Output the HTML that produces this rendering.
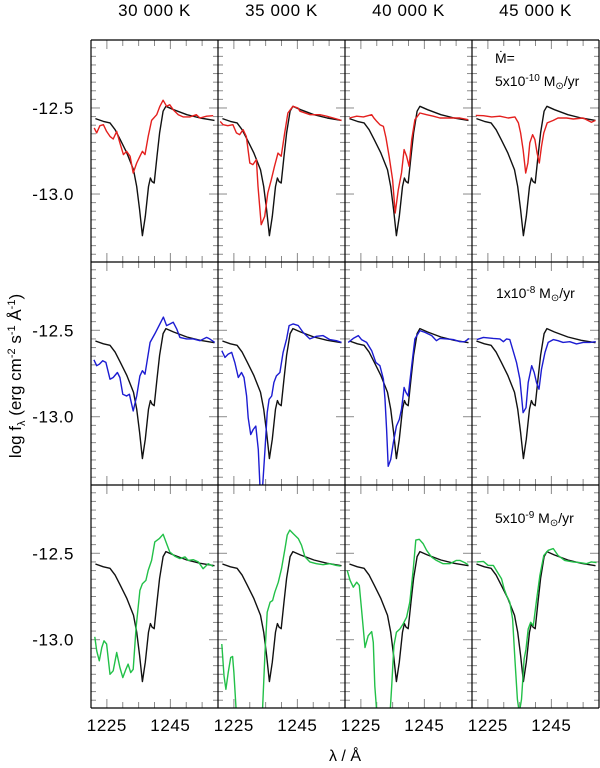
<!DOCTYPE html>
<html><head><meta charset="utf-8">
<style>
html,body{margin:0;padding:0;background:#fff;}
#wrap{position:relative;width:600px;height:768px;overflow:hidden;font-family:"Liberation Sans",sans-serif;}
svg text{font-family:"Liberation Sans",sans-serif;}
</style></head>
<body>
<div id="wrap">
<svg id="chart" width="600" height="768" viewBox="0 0 600 768"></svg>
</div>
<script>
// ---- data ----
const colTitles = ["30 000 K","35 000 K","40 000 K","45 000 K"];
const xTickLabels = [1225, 1245];
const yTickLabels = [-12.5, -13.0];
const rowColors = ["#e4201e","#1c1cd2","#22c048"];

const lamModel = [1221.4,1223.9,1226.0,1227.6,1229.2,1231.3,1233.4,1234.4,1235.3,1236.2,1237.1,1238.1,1238.7,1239.2,1239.9,1240.8,1241.6,1242.7,1243.6,1246.0,1250.2,1254.4,1258.9];
const valModel = [-12.562,-12.578,-12.587,-12.626,-12.684,-12.762,-12.859,-12.956,-13.091,-13.242,-13.130,-12.956,-12.907,-12.927,-12.936,-12.781,-12.645,-12.519,-12.490,-12.510,-12.539,-12.558,-12.572];

const lamR1C1 = [1221.0,1221.8,1222.8,1223.9,1224.9,1226.0,1227.0,1228.1,1229.1,1230.2,1231.2,1232.3,1233.3,1234.4,1235.4,1236.2,1237.0,1238.0,1239.1,1240.7,1241.7,1242.7,1243.8,1244.8,1245.9,1247.5,1249.0,1251.1,1253.2,1254.3,1256.4,1258.5];
const valR1C1 = [-12.616,-12.645,-12.603,-12.597,-12.636,-12.665,-12.680,-12.636,-12.703,-12.771,-12.752,-12.781,-12.878,-12.820,-12.781,-12.752,-12.771,-12.665,-12.572,-12.539,-12.490,-12.455,-12.490,-12.481,-12.510,-12.539,-12.552,-12.552,-12.539,-12.558,-12.548,-12.545];
const lamR1C2 = [1220.7,1221.6,1223.1,1224.7,1225.8,1226.8,1227.9,1228.9,1230.0,1231.0,1232.1,1232.6,1233.6,1234.7,1235.7,1236.8,1237.8,1238.9,1239.9,1241.0,1242.0,1243.6,1245.2,1245.8,1249.0,1252.1,1254.2,1256.3,1258.9];
const valR1C2 = [-12.578,-12.597,-12.603,-12.597,-12.645,-12.655,-12.626,-12.665,-12.820,-12.829,-12.800,-12.955,-13.178,-13.130,-12.994,-12.917,-12.839,-12.762,-12.781,-12.645,-12.529,-12.490,-12.500,-12.519,-12.539,-12.539,-12.548,-12.558,-12.572];
const lamR1C3 = [1221.4,1223.7,1225.8,1228.4,1229.1,1230.0,1231.0,1232.1,1232.9,1233.9,1235.0,1235.8,1236.8,1237.8,1238.6,1239.4,1240.2,1241.0,1242.0,1243.6,1245.7,1247.8,1249.9,1252.0,1254.1,1256.2,1258.8];
const valR1C3 = [-12.558,-12.548,-12.552,-12.539,-12.558,-12.578,-12.597,-12.607,-12.674,-12.781,-12.917,-13.110,-12.975,-12.878,-12.742,-12.781,-12.839,-12.684,-12.568,-12.529,-12.539,-12.548,-12.558,-12.558,-12.558,-12.558,-12.568];
const lamR1C4 = [1221.2,1223.6,1226.2,1228.8,1231.4,1233.5,1234.6,1235.3,1236.1,1236.9,1237.6,1238.2,1239.1,1239.8,1240.5,1241.2,1241.9,1242.6,1243.7,1245.6,1247.1,1249.8,1251.9,1255.0,1257.6,1258.9];
const valR1C4 = [-12.543,-12.545,-12.552,-12.548,-12.558,-12.552,-12.587,-12.645,-12.742,-12.878,-12.820,-12.703,-12.655,-12.684,-12.762,-12.820,-12.723,-12.645,-12.587,-12.572,-12.558,-12.558,-12.564,-12.558,-12.583,-12.572];

const lamR2C1 = [1220.9,1221.8,1222.6,1223.7,1224.7,1226.0,1227.0,1228.3,1229.1,1230.0,1231.2,1232.1,1233.3,1234.4,1235.4,1236.2,1237.0,1238.6,1240.1,1241.7,1242.8,1243.8,1244.9,1245.9,1247.0,1248.0,1250.1,1252.2,1254.3,1256.4,1257.4,1259.0];
const valR2C1 = [-12.671,-12.705,-12.696,-12.676,-12.686,-12.783,-12.773,-12.744,-12.773,-12.870,-12.880,-12.870,-12.967,-12.880,-12.764,-12.734,-12.754,-12.570,-12.521,-12.463,-12.424,-12.473,-12.463,-12.453,-12.492,-12.541,-12.550,-12.550,-12.560,-12.541,-12.550,-12.570];
const lamR2C2 = [1221.2,1222.2,1223.2,1224.3,1225.3,1226.4,1227.4,1228.2,1229.0,1229.5,1230.3,1231.1,1231.9,1232.7,1233.2,1234.0,1234.8,1235.5,1236.1,1236.9,1237.6,1238.4,1239.5,1240.5,1241.6,1242.4,1243.7,1245.3,1246.8,1248.9,1251.0,1253.1,1255.2,1257.3,1258.9];
const valR2C2 = [-12.618,-12.657,-12.638,-12.628,-12.686,-12.773,-12.744,-12.773,-12.880,-13.006,-13.103,-13.074,-13.054,-13.190,-13.393,-13.422,-13.190,-12.977,-12.899,-12.880,-12.802,-12.764,-12.744,-12.628,-12.550,-12.473,-12.463,-12.473,-12.512,-12.550,-12.535,-12.531,-12.554,-12.560,-12.570];
const lamR2C3 = [1221.0,1222.6,1224.2,1225.2,1226.8,1228.4,1229.7,1231.0,1232.1,1232.6,1233.1,1233.6,1234.4,1235.2,1236.2,1237.1,1237.8,1238.6,1239.2,1239.9,1241.0,1242.0,1243.6,1245.2,1247.3,1248.8,1249.9,1252.0,1254.1,1256.2,1257.7,1259.1];
const valR2C3 = [-12.570,-12.547,-12.531,-12.554,-12.570,-12.618,-12.686,-12.705,-12.783,-12.899,-13.074,-13.287,-13.248,-13.151,-13.054,-13.016,-12.957,-12.831,-12.860,-12.880,-12.705,-12.550,-12.502,-12.512,-12.531,-12.560,-12.547,-12.550,-12.554,-12.566,-12.566,-12.547];
const lamR2C4 = [1221.5,1223.6,1226.7,1228.8,1229.9,1230.9,1231.9,1232.8,1234.0,1235.1,1236.1,1237.0,1237.7,1238.8,1239.6,1240.3,1241.1,1241.9,1243.0,1244.0,1245.6,1247.1,1248.7,1250.8,1252.9,1255.0,1257.1,1259.0];
const valR2C4 = [-12.554,-12.541,-12.547,-12.550,-12.566,-12.550,-12.554,-12.609,-12.686,-12.783,-12.977,-12.948,-12.802,-12.705,-12.744,-12.802,-12.841,-12.725,-12.628,-12.570,-12.554,-12.560,-12.570,-12.566,-12.579,-12.570,-12.570,-12.566];

const lamR3C1 = [1221.2,1221.8,1222.6,1223.4,1224.1,1224.9,1226.0,1227.0,1228.1,1229.1,1230.0,1231.0,1231.7,1232.5,1233.3,1234.2,1235.4,1236.2,1237.3,1238.0,1239.1,1240.1,1241.5,1242.7,1243.8,1244.8,1246.4,1248.0,1249.6,1250.6,1252.2,1253.8,1255.3,1256.9,1258.5];
const valR3C1 = [-12.983,-13.064,-13.122,-13.045,-13.006,-13.025,-13.200,-13.180,-13.074,-13.161,-13.219,-13.171,-13.141,-13.190,-13.171,-12.928,-12.715,-12.676,-12.657,-12.599,-12.541,-12.434,-12.415,-12.390,-12.444,-12.492,-12.517,-12.531,-12.521,-12.541,-12.537,-12.550,-12.589,-12.560,-12.576];
const lamR3C2 = [1221.2,1221.9,1222.5,1223.2,1224.0,1224.6,1225.0,1225.7,1226.4,1227.5,1233.2,1234.0,1234.8,1235.5,1236.4,1237.2,1237.9,1239.0,1240.0,1241.1,1241.8,1242.6,1243.7,1245.3,1246.3,1247.4,1248.9,1251.0,1253.1,1255.2,1257.3,1258.6];
const valR3C2 = [-13.025,-13.209,-13.287,-13.190,-13.103,-13.097,-13.190,-13.403,-13.500,-13.578,-13.578,-13.422,-13.074,-12.841,-12.783,-12.773,-12.725,-12.667,-12.589,-12.473,-12.395,-12.366,-12.386,-12.415,-12.453,-12.521,-12.550,-12.560,-12.566,-12.560,-12.570,-12.574];
const lamR3C3 = [1220.7,1221.6,1222.6,1223.7,1224.5,1225.2,1226.3,1227.3,1228.4,1228.9,1229.4,1230.0,1234.2,1234.7,1235.4,1236.2,1237.3,1238.3,1239.4,1240.4,1241.5,1242.3,1243.4,1244.6,1245.7,1247.2,1248.8,1250.9,1253.0,1255.1,1256.2,1257.7,1258.8];
const valR3C3 = [-12.599,-12.657,-12.696,-12.667,-12.686,-12.822,-13.045,-12.977,-12.953,-13.016,-13.267,-13.422,-13.422,-13.267,-13.035,-12.957,-12.938,-12.909,-12.870,-12.783,-12.589,-12.424,-12.419,-12.444,-12.483,-12.521,-12.541,-12.560,-12.560,-12.541,-12.541,-12.554,-12.566];
const lamR3C4 = [1221.5,1223.6,1225.1,1226.7,1228.3,1229.3,1230.1,1230.9,1231.9,1232.8,1233.5,1234.3,1234.9,1235.6,1236.4,1237.0,1237.7,1238.5,1239.3,1240.3,1241.4,1242.6,1244.0,1245.6,1247.1,1249.2,1251.8,1253.9,1256.1,1257.6,1259.2];
const valR3C4 = [-12.550,-12.547,-12.570,-12.570,-12.618,-12.647,-12.705,-12.744,-12.783,-12.880,-13.112,-13.345,-13.422,-13.345,-13.112,-13.054,-12.938,-12.899,-12.919,-12.773,-12.628,-12.512,-12.483,-12.473,-12.512,-12.541,-12.550,-12.554,-12.560,-12.550,-12.554];

const seriesLam = [[lamR1C1,lamR1C2,lamR1C3,lamR1C4],[lamR2C1,lamR2C2,lamR2C3,lamR2C4],[lamR3C1,lamR3C2,lamR3C3,lamR3C4]];
const seriesVal = [[valR1C1,valR1C2,valR1C3,valR1C4],[valR2C1,valR2C2,valR2C3,valR2C4],[valR3C1,valR3C2,valR3C3,valR3C4]];

// ---- layout ----
const colX = [91,218,345,472,599];
const rowY = [40,262,485,708];
const lamMin = 1220, lamMax = 1260;
const vMax = -12.105, vMin = -13.395;
const NS = "http://www.w3.org/2000/svg";
const svg = document.getElementById('chart');

function xS(c, lam){ return colX[c] + (lam - lamMin)/(lamMax-lamMin)*(colX[c+1]-colX[c]); }
function yS(r, v){ return rowY[r] + (vMax - v)/(vMax-vMin)*(rowY[r+1]-rowY[r]); }
function mk(tag, attrs){ const e=document.createElementNS(NS,tag); for(const k in attrs) e.setAttribute(k,attrs[k]); return e; }

const defs = mk('defs',{});
svg.appendChild(defs);

for(let r=0;r<3;r++){
  for(let c=0;c<4;c++){
    const g = mk('g',{});
    
    
    svg.appendChild(g);
    const x0=colX[c], x1=colX[c+1], y0=rowY[r], y1=rowY[r+1];
    const cp = mk('clipPath',{id:'cp'+r+c});
    cp.appendChild(mk('rect',{x:x0,y:y0,width:x1-x0,height:y1-y0}));
    defs.appendChild(cp);
    const tk = mk('g',{stroke:'#8a8a8a','stroke-width':'1'});
    
    
    for(let l=1225;l<=1255;l+=5){
      const X=xS(c,l);
      const len = (l===1225||l===1245)?9:6;
      tk.appendChild(mk('line',{x1:X,y1:y0,x2:X,y2:y0+len}));
      tk.appendChild(mk('line',{x1:X,y1:y1,x2:X,y2:y1-len}));
    }
    for(let k=-2;k<=28;k++){
      const v = -12.0 - k*0.05;
      if(v>vMax||v<vMin) continue;
      const Y=yS(r,v);
      const major = (k%10===0);
      const len = major?9:5;
      tk.appendChild(mk('line',{x1:x0,y1:Y,x2:x0+len,y2:Y}));
      tk.appendChild(mk('line',{x1:x1,y1:Y,x2:x1-len,y2:Y}));
    }
    g.appendChild(tk);
    let d='';
    for(let i=0;i<lamModel.length;i++) d+=(i?'L':'M')+xS(c,lamModel[i]).toFixed(1)+' '+yS(r,valModel[i]).toFixed(1);
    const pm = mk('path',{d:d,fill:'none',stroke:'#111','stroke-width':'1.4','clip-path':'url(#cp'+r+c+')','stroke-linejoin':'round'});
    
    
    g.appendChild(pm);
    const la=seriesLam[r][c], va=seriesVal[r][c];
    let d2='';
    for(let i=0;i<la.length;i++) d2+=(i?'L':'M')+xS(c,la[i]).toFixed(1)+' '+yS(r,va[i]).toFixed(1);
    const ps = mk('path',{d:d2,fill:'none',stroke:rowColors[r],'stroke-width':'1.4','clip-path':'url(#cp'+r+c+')','stroke-linejoin':'round'});
    
    
    g.appendChild(ps);
  }
}
const fr = mk('g',{stroke:'#000','stroke-width':'1.2'});


colX.forEach(X=>fr.appendChild(mk('line',{x1:X,y1:rowY[0],x2:X,y2:rowY[3]})));
rowY.forEach(Y=>fr.appendChild(mk('line',{x1:colX[0],y1:Y,x2:colX[4],y2:Y})));
svg.appendChild(fr);

colTitles.forEach((t,c)=>{
  const e = mk('text',{x:(colX[c]+colX[c+1])/2,y:16,'text-anchor':'middle','font-size':'17','letter-spacing':'0.6'});
  e.textContent=t;
  
  
  svg.appendChild(e);
});
for(let r=0;r<3;r++){
  yTickLabels.forEach(v=>{
    const e = mk('text',{x:74,y:yS(r,v)+6,'text-anchor':'end','font-size':'17','letter-spacing':'0.6'});
    e.textContent=v.toFixed(1);
    
    
    svg.appendChild(e);
  });
}
for(let c=0;c<4;c++){
  xTickLabels.forEach(l=>{
    const e = mk('text',{x:xS(c,l),y:731,'text-anchor':'middle','font-size':'17','letter-spacing':'0.6'});
    e.textContent=String(l);
    
    
    svg.appendChild(e);
  });
}
</script>
<svg width="600" height="768" style="position:absolute;left:0;top:0;pointer-events:none">
<text x="345" y="761" text-anchor="middle" font-size="16">λ / Å</text>
<text transform="translate(21,376) rotate(-90)" text-anchor="middle" font-size="17">log f<tspan font-size="11" dy="4">λ</tspan><tspan dy="-4"> (erg cm</tspan><tspan font-size="11" dy="-6">-2</tspan><tspan dy="6"> s</tspan><tspan font-size="11" dy="-6">-1</tspan><tspan dy="6"> Å</tspan><tspan font-size="11" dy="-6">-1</tspan><tspan dy="6">)</tspan></text>
<text x="495" y="63" font-size="14">Ṁ=</text>
<text x="495" y="86" font-size="14">5x10<tspan font-size="10" dy="-5">-10</tspan><tspan dy="5"> M</tspan><tspan font-size="10" dy="3">⊙</tspan><tspan dy="-3">/yr</tspan></text>
<text x="496" y="298" font-size="14">1x10<tspan font-size="10" dy="-5">-8</tspan><tspan dy="5"> M</tspan><tspan font-size="10" dy="3">⊙</tspan><tspan dy="-3">/yr</tspan></text>
<text x="495" y="523" font-size="14">5x10<tspan font-size="10" dy="-5">-9</tspan><tspan dy="5"> M</tspan><tspan font-size="10" dy="3">⊙</tspan><tspan dy="-3">/yr</tspan></text>
</svg>
</body></html>
